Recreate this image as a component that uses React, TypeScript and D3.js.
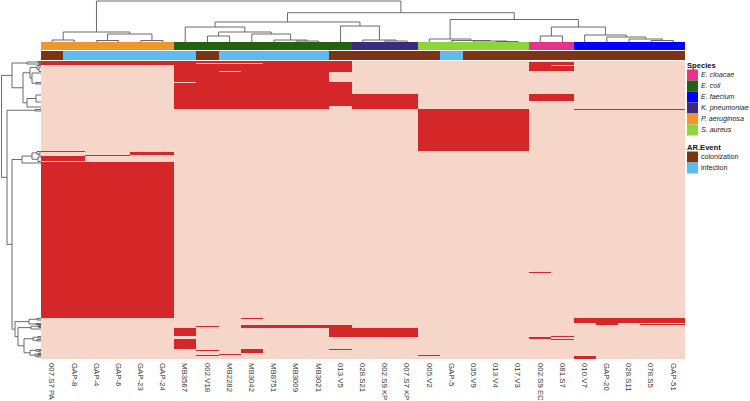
import * as d3 from 'd3';

const COLUMNS = [
  '007.S7 PA', 'GAP-8', 'GAP-4', 'GAP-6', 'GAP-23', 'GAP-24',
  'MB3567', '002.V18', 'MB2282', 'MB3042', 'MB8751', 'MB3009', 'MB3021', '013.V5',
  '028.S21', '002.S9 KP', '007.S7 KP',
  '005.V2', 'GAP-5', '035.V9', '013.V4', '017.V3',
  '002.S9 ECl', '081.S7',
  '010.V7', 'GAP-20', '028.S11', '078.S5', 'GAP-51',
];

const SPECIES = ['E. cloacae', 'E. coli', 'E. faecium', 'K. pneumoniae', 'P. aeruginosa', 'S. aureus'];
const SPECIES_COLORS = ['#e7318b', '#24620f', '#0000fe', '#3b2b7f', '#ef962f', '#8ed53b'];

const COLUMN_SPECIES = [
  'P. aeruginosa', 'P. aeruginosa', 'P. aeruginosa', 'P. aeruginosa', 'P. aeruginosa', 'P. aeruginosa',
  'E. coli', 'E. coli', 'E. coli', 'E. coli', 'E. coli', 'E. coli', 'E. coli', 'E. coli',
  'K. pneumoniae', 'K. pneumoniae', 'K. pneumoniae',
  'S. aureus', 'S. aureus', 'S. aureus', 'S. aureus', 'S. aureus',
  'E. cloacae', 'E. cloacae',
  'E. faecium', 'E. faecium', 'E. faecium', 'E. faecium', 'E. faecium',
];

const EVENTS = ['colonization', 'infection'];
const EVENT_COLORS = ['#7b3514', '#5bbcf2'];

const COLUMN_EVENT = [
  'colonization', 'infection', 'infection', 'infection', 'infection', 'infection',
  'infection', 'colonization', 'infection', 'infection', 'infection', 'infection', 'infection', 'colonization',
  'colonization', 'colonization', 'colonization',
  'colonization', 'infection', 'colonization', 'colonization', 'colonization',
  'colonization', 'colonization',
  'colonization', 'colonization', 'colonization', 'colonization', 'colonization',
];

// heatmap rows, grouped into bands of identical rows (top to bottom)
const BAND_ROWS = [
  1, 1, 1, 1, 1, 5, 1, 10, 1, 11, 7, 5, 3, 1, 41, 1, 3, 1, 5, 1, 110,
  1, 45, 1, 4, 1, 1, 1, 1, 1, 8, 1, 2, 1, 9, 1, 1, 2, 1, 1, 1, 3,
];

// PA(6) EC(8) KP(3) SA(5) ECl(2) EF(5)
const BAND_CELLS = [
  '111111 11111111 000 00000 00 00000',
  '111111 11111111 000 00000 11 00000',
  '111111 10001111 000 00000 11 00000',
  '111111 11111111 000 00000 11 00000',
  '000000 11111111 000 00000 10 00000',
  '000000 11111111 000 00000 11 00000',
  '000000 11011111 000 00000 00 00000',
  '000000 11111110 000 00000 00 00000',
  '000000 01111111 000 00000 00 00000',
  '000000 11111111 000 00000 00 00000',
  '000000 11111111 111 00000 11 00000',
  '000000 11111111 111 00000 00 00000',
  '000000 11111110 111 00000 00 00000',
  '000000 00000000 000 11111 00 11111',
  '000000 00000000 000 11111 00 00000',
  '110000 00000000 000 00000 00 00000',
  '000011 00000000 000 00000 00 00000',
  '001100 00000000 000 00000 00 00000',
  '110000 00000000 000 00000 00 00000',
  '000000 00000000 000 00000 00 00000',
  '111111 00000000 000 00000 00 00000',
  '111111 00000000 000 00000 10 00000',
  '111111 00000000 000 00000 00 00000',
  '000000 00010000 000 00000 00 11111',
  '000000 00000000 000 00000 00 11111',
  '000000 00000000 000 00000 00 01000',
  '000000 00000000 000 00000 00 01011',
  '000000 00011111 000 00000 00 00000',
  '000000 01011111 000 00000 00 00000',
  '000000 00011111 000 00000 00 00000',
  '000000 10000001 111 00000 00 00000',
  '000000 00000001 111 00000 01 00000',
  '000000 00000000 000 00000 10 00000',
  '000000 10000000 000 00000 01 00000',
  '000000 10000000 000 00000 00 00000',
  '000000 00010001 000 00000 00 00000',
  '000000 01010000 000 00000 00 00000',
  '000000 00010000 000 00000 00 00000',
  '000000 00000000 000 00000 00 00000',
  '000000 00100000 000 00000 00 00000',
  '000000 01000000 000 10000 00 00000',
  '000000 00000000 000 00000 00 10000',
];

// [height, left, right]; numbers are leaves (column index / band index)
type Tree = number | [number, Tree, Tree];

const COL_TREE: Tree = [4.1,
  [1.0, [0.2, 0, 1], [0.8, [0.15, 2, 3], [0.15, 4, 5]]],
  [2.93,
    [2.0,
      [1.5, 6, [1.0, [0.6, 7, 8], [0.8, 9, [0.2, 10, [0.1, 11, 12]]]]],
      [1.6, 13, [0.2, 14, [0.1, 15, 16]]]],
    [2.25,
      [0.3, 17, [0.15, 18, [0.1, 19, [0.05, 20, 21]]]],
      [1.5, [0.6, 22, 23], [0.7, 24, [0.5, 25, [0.3, 26, [0.15, 27, 28]]]]]]]];

const ROW_TREE: Tree = [3.95,
  [2.9,
    [1.4, [0.3, 0, 1], [0.2, 2, 3]],
    [1.8,
      [1.1, [0.4, 4, [0.2, 5, 6]], [0.9, 7, [0.5, 8, 9]]],
      [1.4, [0.5, 10, 11], 12]]],
  [3.4,
    [0.6, 13, 14],
    [2.9,
      [1.9,
        [0.9, [0.4, 15, [0.2, 16, 17]], [0.3, 18, 19]],
        [0, 20, [0, 21, 22]]],
      [2.6,
        [1.2, [0.4, 23, 24], [0.5, 25, 26]],
        [2.3,
          [1.0, [0.3, 27, [0.2, 28, 29]], 30],
          [1.7,
            [0.8, [0.3, 31, 32], [0.4, 33, 34]],
            [1.1, [0.5, 35, [0.2, 36, 37]], [0.6, [0.3, 38, 39], [0.4, 40, 41]]]]]]]]];

interface Seg { h0: number; h1: number; p0: number; p1: number }

function dendrogram(tree: Tree, leafPos: (i: number) => number): Seg[] {
  const segs: Seg[] = [];
  function walk(t: Tree): { p: number; h: number } {
    if (typeof t === 'number') return { p: leafPos(t), h: 0 };
    const [h, l, r] = t;
    const a = walk(l);
    const b = walk(r);
    if (h === 0) return { p: a.p, h: 0 }; // tied rows, drawn as a chain at leaf level
    segs.push({ h0: h, h1: h, p0: a.p, p1: b.p });
    segs.push({ h0: h, h1: a.h, p0: a.p, p1: a.p });
    segs.push({ h0: h, h1: b.h, p0: b.p, p1: b.p });
    return { p: (a.p + b.p) / 2, h };
  }
  walk(tree);
  return segs;
}

const FONT = '"Liberation Sans", Arial, Helvetica, sans-serif';
const RED = '#d62728';
const PINK = '#f5d6c9';
const LINE = '#5a5a5a';

export default function App() {
  const width = 750;
  const height = 401;

  const x = d3.scaleBand<string>().domain(COLUMNS).range([41, 684.5]);
  const bw = x.bandwidth();
  const total = d3.sum(BAND_ROWS);
  const y = d3.scaleLinear().domain([0, total]).range([61, 359]);
  const ends = Array.from(d3.cumsum(BAND_ROWS));
  const tops = ends.map((e, i) => e - BAND_ROWS[i]);

  const speciesColor = d3.scaleOrdinal<string, string>().domain(SPECIES).range(SPECIES_COLORS);
  const eventColor = d3.scaleOrdinal<string, string>().domain(EVENTS).range(EVENT_COLORS);

  const colH = d3.scaleLinear().domain([0, 4.1]).range([42, 1]);
  const rowH = d3.scaleLinear().domain([0, 4]).range([41, 1]);

  const colSegs = dendrogram(COL_TREE, i => (x(COLUMNS[i]) ?? 0) + bw / 2);
  const rowSegs = dendrogram(ROW_TREE, i => y(tops[i] + Math.min(BAND_ROWS[i], 2) / 2));

  // red runs per band
  const runs: { band: number; c0: number; c1: number }[] = [];
  BAND_CELLS.forEach((s, band) => {
    const cells = s.replace(/ /g, '');
    let start = -1;
    for (let c = 0; c <= cells.length; c++) {
      const on = cells[c] === '1';
      if (on && start < 0) start = c;
      if (!on && start >= 0) {
        runs.push({ band, c0: start, c1: c - 1 });
        start = -1;
      }
    }
  });

  const legendX = 687;
  const sq = 11;

  return (
    <svg width={width} height={height} style={{ position: 'absolute', left: 0, top: 0, background: '#fff' }}
      fontFamily={FONT}>
      {/* column dendrogram */}
      <g stroke={LINE} strokeWidth={0.9} fill="none">
        {colSegs.map((s, i) => (
          <line key={i} x1={s.p0} x2={s.p1} y1={colH(s.h0)} y2={colH(s.h1)} />
        ))}
      </g>
      {/* row dendrogram */}
      <g stroke={LINE} strokeWidth={0.9} fill="none">
        {rowSegs.map((s, i) => (
          <line key={i} y1={s.p0} y2={s.p1} x1={rowH(s.h0)} x2={rowH(s.h1)} />
        ))}
      </g>

      {/* annotation bars */}
      <g shapeRendering="crispEdges">
        {COLUMNS.map((c, i) => (
          <rect key={'s' + c} x={x(c)} y={42} width={bw + 0.5} height={8.3} fill={speciesColor(COLUMN_SPECIES[i])} />
        ))}
        {COLUMNS.map((c, i) => (
          <rect key={'e' + c} x={x(c)} y={51.3} width={bw + 0.5} height={8.2} fill={eventColor(COLUMN_EVENT[i])} />
        ))}
      </g>

      {/* heatmap */}
      <g shapeRendering="crispEdges">
        <rect x={41} y={y(0)} width={684.5 - 41} height={y(total) - y(0)} fill={PINK} />
        {runs.map((r, i) => (
          <rect key={i}
            x={x(COLUMNS[r.c0])}
            width={(x(COLUMNS[r.c1]) ?? 0) + bw - (x(COLUMNS[r.c0]) ?? 0)}
            y={y(tops[r.band])}
            height={y(ends[r.band]) - y(tops[r.band])}
            fill={RED} />
        ))}
      </g>

      {/* column labels */}
      <g fontSize={7.8} fill="#333">
        {COLUMNS.map(c => (
          <text key={c} transform={`translate(${(x(c) ?? 0) + bw / 2},363) rotate(90)`} dy="0.35em">{c}</text>
        ))}
      </g>

      {/* legend */}
      <g fontSize={7.1} fill="#111">
        <text x={legendX} y={67.8} fontWeight="bold" fontSize={7.6}>Species</text>
        {SPECIES.map((s, i) => (
          <g key={s}>
            <rect x={legendX} y={69.5 + i * sq} width={sq} height={sq} fill={speciesColor(s)} />
            <text x={legendX + 14} y={69.5 + i * sq + sq / 2} dy="0.35em" fontStyle="italic" fill="#222">{s}</text>
          </g>
        ))}
        <text x={legendX} y={149.8} fontWeight="bold" fontSize={7.6}>AR.Event</text>
        {EVENTS.map((e, i) => (
          <g key={e}>
            <rect x={legendX} y={151.5 + i * sq} width={sq} height={sq} fill={eventColor(e)} />
            <text x={legendX + 14} y={151.5 + i * sq + sq / 2} dy="0.35em" fill="#222">{e}</text>
          </g>
        ))}
      </g>
    </svg>
  );
}
